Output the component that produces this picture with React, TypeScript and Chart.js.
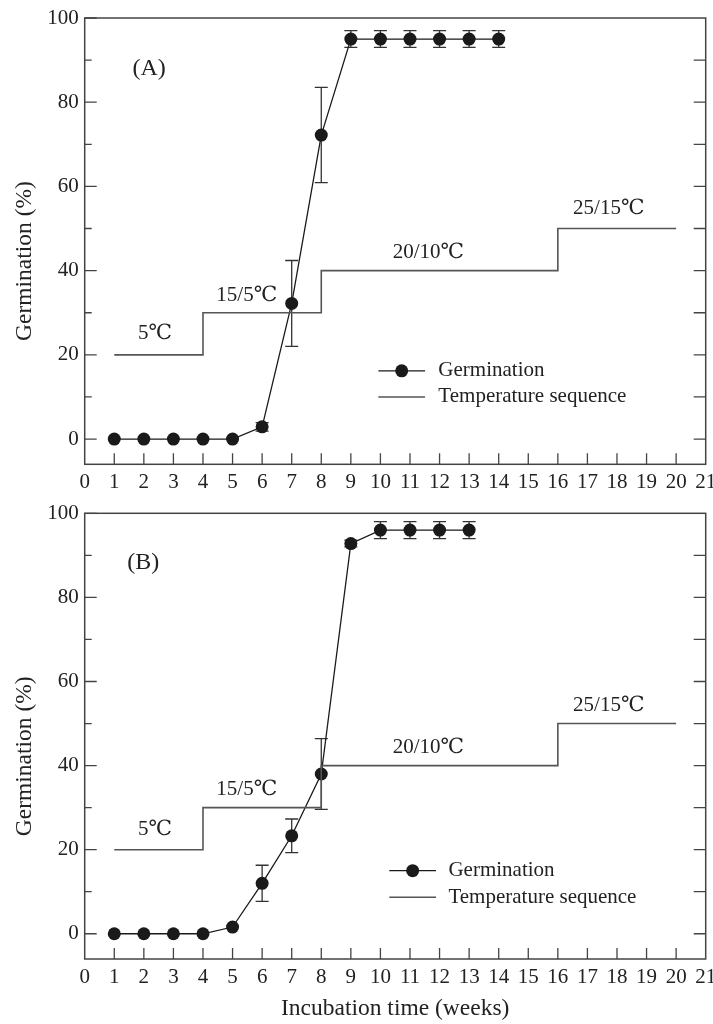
import React, { useEffect, useRef } from 'react';
import { Chart, registerables } from 'chart.js';

Chart.register(...registerables);

// ---------- data ----------
const weeksA = [1, 2, 3, 4, 5, 6, 7, 8, 9, 10, 11, 12, 13, 14];
const germinationA = [0, 0, 0, 0, 0, 2.9, 32.2, 72.2, 95, 95, 95, 95, 95, 95];
const errorA = [0, 0, 0, 0, 0, 1, 10.2, 11.3, 2, 2, 2, 2, 2, 2];

const weeksB = [1, 2, 3, 4, 5, 6, 7, 8, 9, 10, 11, 12, 13];
const germinationB = [0, 0, 0, 0, 1.6, 12, 23.3, 38, 92.8, 96, 96, 96, 96];
const errorB = [0, 0, 0, 0, 0, 4.3, 4, 8.4, 0.8, 2, 2, 2, 2];

const tempWeeks = [1, 4, 4, 8, 8, 16, 16, 20];
const tempValues = [20, 20, 30, 30, 40, 40, 50, 50];

const xTickValues = [0, 1, 2, 3, 4, 5, 6, 7, 8, 9, 10, 11, 12, 13, 14, 15, 16, 17, 18, 19, 20, 21];
const yLabelValues = [0, 20, 40, 60, 80, 100];
const yMinorValues = [10, 30, 50, 70, 90];
const yRightTickValues = [0, 10, 20, 30, 40, 50, 60, 70, 80, 90];

const tempLabels = ['5℃', '15/5℃', '20/10℃', '25/15℃'];
const legendLabels = ['Germination', 'Temperature sequence'];
const panelLabels = ['(A)', '(B)'];
const xTitle = 'Incubation time (weeks)';
const yTitle = 'Germination (%)';

// annotation anchors (data units)
const tempLabelAnchorsA = [[2.38, 25.1], [5.48, 34.2], [11.62, 44.4], [17.72, 54.8]];
const tempLabelAnchorsB = [[2.38, 24.9], [5.48, 34.4], [11.62, 44.3], [17.72, 54.2]];
const panelAnchorA = [2.18, 88];
const panelAnchorB = [1.98, 88.3];
// legend: [lineStart, lineEnd, marker, textX, row1Y, row2Y]
const legendAnchorA = [9.93, 11.51, 10.72, 11.96, 16.2, 10.0];
const legendAnchorB = [10.3, 11.88, 11.09, 12.3, 15.0, 8.7];

const FONT = '"Liberation Serif", "Times New Roman", serif';
const LABEL_FONT = '"Liberation Serif", "DejaVu Serif", "Noto Sans CJK SC", serif';
const TEXT_COLOR = '#222';
const FRAME_COLOR = '#444';
const MARK_COLOR = '#1a1a1a';
const TEMP_COLOR = '#555';

type Panel = {
  weeks: number[];
  values: number[];
  errors: number[];
  tempAnchors: number[][];
  panelAnchor: number[];
  legendAnchor: number[];
  panelLabel: string;
  height: number;
  plotTop: number;
  plotBottom: number;
  showXTitle: boolean;
};

const overlayPlugin = (p: Panel) => ({
  id: 'overlay',
  beforeDatasetsDraw(chart: any) {
    const { ctx } = chart;
    const xs = chart.scales.x;
    const ys = chart.scales.y;
    ctx.save();
    ctx.strokeStyle = '#333';
    ctx.lineWidth = 1.3;
    p.weeks.forEach((w, i) => {
      const e = p.errors[i];
      if (!e) return;
      const x = xs.getPixelForValue(w);
      const y1 = ys.getPixelForValue(p.values[i] + e);
      const y2 = ys.getPixelForValue(p.values[i] - e);
      ctx.beginPath();
      ctx.moveTo(x, y1);
      ctx.lineTo(x, y2);
      ctx.moveTo(x - 6.5, y1);
      ctx.lineTo(x + 6.5, y1);
      ctx.moveTo(x - 6.5, y2);
      ctx.lineTo(x + 6.5, y2);
      ctx.stroke();
    });
    ctx.restore();
  },
  afterDatasetsDraw(chart: any) {
    const { ctx, chartArea } = chart;
    const xs = chart.scales.x;
    const ys = chart.scales.y;
    const { left, right, top, bottom } = chartArea;
    ctx.save();
    // frame
    ctx.strokeStyle = FRAME_COLOR;
    ctx.lineWidth = 1.5;
    ctx.strokeRect(left, top, right - left, bottom - top);
    // ticks
    ctx.lineWidth = 1.3;
    ctx.beginPath();
    xTickValues.forEach((v) => {
      if (v === 0 || v === 21) return;
      const x = xs.getPixelForValue(v);
      ctx.moveTo(x, bottom);
      ctx.lineTo(x, bottom - 11);
    });
    yLabelValues.forEach((v) => {
      const y = ys.getPixelForValue(v);
      ctx.moveTo(left, y);
      ctx.lineTo(left + 12, y);
    });
    yMinorValues.forEach((v) => {
      const y = ys.getPixelForValue(v);
      ctx.moveTo(left, y);
      ctx.lineTo(left + 7, y);
    });
    yRightTickValues.forEach((v) => {
      const y = ys.getPixelForValue(v);
      ctx.moveTo(right, y);
      ctx.lineTo(right - 12, y);
    });
    ctx.stroke();

    // temperature labels
    ctx.fillStyle = TEXT_COLOR;
    ctx.textAlign = 'center';
    ctx.textBaseline = 'middle';
    ctx.font = `21px ${LABEL_FONT}`;
    tempLabels.forEach((t, i) => {
      const [ax, ay] = p.tempAnchors[i];
      ctx.fillText(t, xs.getPixelForValue(ax), ys.getPixelForValue(ay));
    });
    // panel label
    ctx.font = `24px ${FONT}`;
    ctx.fillText(p.panelLabel, xs.getPixelForValue(p.panelAnchor[0]), ys.getPixelForValue(p.panelAnchor[1]));

    // legend
    const [l1, l2, lm, tx, r1, r2] = p.legendAnchor;
    const x1 = xs.getPixelForValue(l1);
    const x2 = xs.getPixelForValue(l2);
    const xm = xs.getPixelForValue(lm);
    const ya = ys.getPixelForValue(r1);
    const yb = ys.getPixelForValue(r2);
    ctx.strokeStyle = MARK_COLOR;
    ctx.lineWidth = 1.3;
    ctx.beginPath();
    ctx.moveTo(x1, ya);
    ctx.lineTo(x2, ya);
    ctx.stroke();
    ctx.fillStyle = MARK_COLOR;
    ctx.beginPath();
    ctx.arc(xm, ya, 6.5, 0, Math.PI * 2);
    ctx.fill();
    ctx.strokeStyle = TEMP_COLOR;
    ctx.lineWidth = 1.5;
    ctx.beginPath();
    ctx.moveTo(x1, yb);
    ctx.lineTo(x2, yb);
    ctx.stroke();
    ctx.fillStyle = TEXT_COLOR;
    ctx.font = `21px ${FONT}`;
    ctx.textAlign = 'left';
    ctx.fillText(legendLabels[0], xs.getPixelForValue(tx), ya);
    ctx.fillText(legendLabels[1], xs.getPixelForValue(tx), yb);

    // y title
    ctx.font = `23.5px ${FONT}`;
    ctx.textAlign = 'center';
    ctx.translate(25, top + 243);
    ctx.rotate(-Math.PI / 2);
    ctx.fillText(yTitle, 0, 0);
    ctx.restore();
  },
});

function makeConfig(p: Panel): any {
  return {
    type: 'line',
    data: {
      datasets: [
        {
          label: legendLabels[1],
          data: tempWeeks.map((x, i) => ({ x, y: tempValues[i] })),
          borderColor: TEMP_COLOR,
          borderWidth: 1.6,
          pointRadius: 0,
          fill: false,
          tension: 0,
        },
        {
          label: legendLabels[0],
          data: p.weeks.map((x, i) => ({ x, y: p.values[i] })),
          borderColor: MARK_COLOR,
          borderWidth: 1.3,
          pointRadius: 6.5,
          pointBackgroundColor: MARK_COLOR,
          pointBorderColor: MARK_COLOR,
          pointBorderWidth: 0,
          fill: false,
          tension: 0,
        },
      ],
    },
    options: {
      animation: false,
      responsive: false,
      maintainAspectRatio: false,
      layout: { padding: { top: p.plotTop, right: 7.3, left: 0, bottom: 0 } },
      plugins: { legend: { display: false }, tooltip: { enabled: false } },
      scales: {
        x: {
          type: 'linear',
          min: 0,
          max: 21,
          afterBuildTicks: (s: any) => {
            s.ticks = xTickValues.map((v) => ({ value: v }));
          },
          afterFit: (s: any) => {
            s.height = p.height - p.plotBottom;
            s.paddingLeft = 0;
            s.paddingRight = 0;
          },
          grid: { display: false, drawTicks: false },
          border: { display: false },
          ticks: {
            padding: 6,
            autoSkip: false,
            maxRotation: 0,
            color: TEXT_COLOR,
            font: { family: FONT, size: 21 },
          },
          title: {
            display: p.showXTitle,
            text: xTitle,
            color: TEXT_COLOR,
            font: { family: FONT, size: 23.5 },
            padding: { top: 0, bottom: 1 },
          },
        },
        y: {
          type: 'linear',
          min: -6,
          max: 100,
          afterBuildTicks: (s: any) => {
            s.ticks = yLabelValues.map((v) => ({ value: v }));
          },
          afterFit: (s: any) => {
            s.width = 84.7;
            s.paddingTop = 0;
            s.paddingBottom = 0;
          },
          grid: { display: false, drawTicks: false },
          border: { display: false },
          ticks: {
            padding: 6,
            color: TEXT_COLOR,
            font: { family: FONT, size: 21 },
          },
        },
      },
    },
    plugins: [overlayPlugin(p)],
  };
}

const panelA: Panel = {
  weeks: weeksA,
  values: germinationA,
  errors: errorA,
  tempAnchors: tempLabelAnchorsA,
  panelAnchor: panelAnchorA,
  legendAnchor: legendAnchorA,
  panelLabel: panelLabels[0],
  height: 492,
  plotTop: 18,
  plotBottom: 464.3,
  showXTitle: false,
};

const panelB: Panel = {
  weeks: weeksB,
  values: germinationB,
  errors: errorB,
  tempAnchors: tempLabelAnchorsB,
  panelAnchor: panelAnchorB,
  legendAnchor: legendAnchorB,
  panelLabel: panelLabels[1],
  height: 532,
  plotTop: 21.3,
  plotBottom: 467,
  showXTitle: true,
};

function PanelChart({ panel, top }: { panel: Panel; top: number }) {
  const ref = useRef<HTMLCanvasElement | null>(null);
  useEffect(() => {
    if (!ref.current) return;
    const chart = new Chart(ref.current, makeConfig(panel));
    return () => chart.destroy();
  }, [panel]);
  return (
    <canvas
      ref={ref}
      width={713}
      height={panel.height}
      style={{ position: 'absolute', left: 0, top, width: 713, height: panel.height, display: 'block' }}
    />
  );
}

export default function App() {
  return (
    <div style={{ position: 'absolute', left: 0, top: 0, width: 713, height: 1024, background: '#fff' }}>
      <PanelChart panel={panelA} top={0} />
      <PanelChart panel={panelB} top={492} />
    </div>
  );
}
